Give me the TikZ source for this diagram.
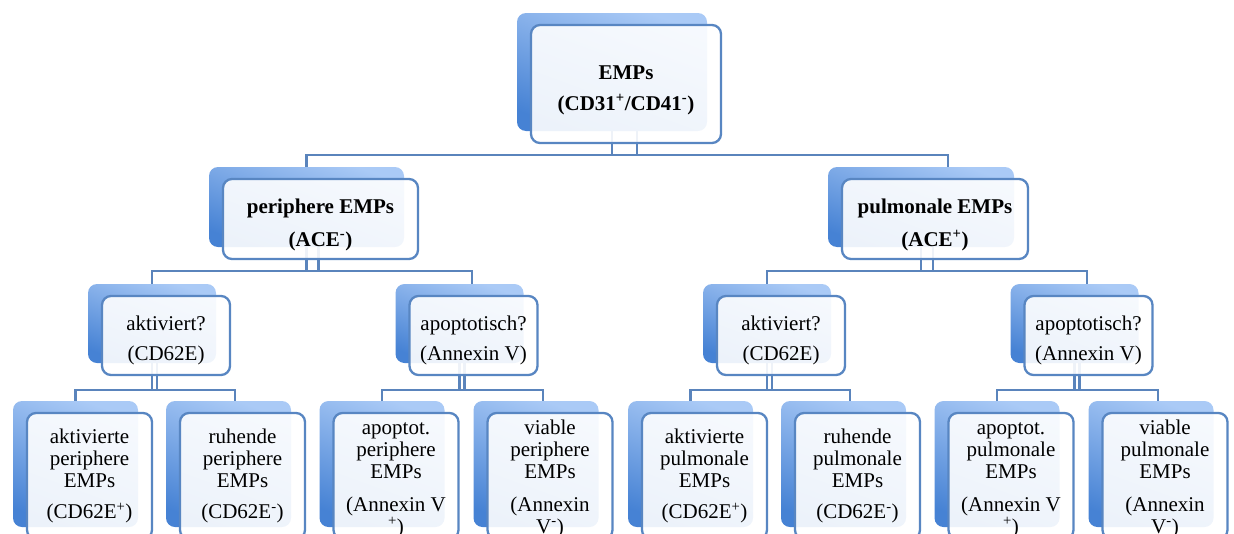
\documentclass[tikz,border=0pt]{standalone}
\usepackage{fontspec}
\setmainfont{Liberation Serif}
\usetikzlibrary{calc}
\pgfdeclarelayer{bg}
\pgfsetlayers{bg,main}
\definecolor{bordc}{RGB}{88,134,194}
\definecolor{linec}{RGB}{90,132,188}
\definecolor{backtop}{RGB}{170,202,246}
\definecolor{backbot}{RGB}{70,130,212}
\newcommand\mkbox[6]{%
  \node[backbox, minimum width=#4pt, minimum height=#5pt] (#1b) at (#2-14,#3-12) {};
  \node[frontbox, minimum width=#4pt, minimum height=#5pt] (#1) at (#2,#3) {#6};
}
\newcommand\lowr[1]{\rule{0pt}{#1pt}}
\begin{document}
\begin{tikzpicture}[x=1pt,y=-1pt,
  frontbox/.style={draw=bordc, line width=2.3pt, rounded corners=9pt, fill=white,
    fill opacity=0.9, text opacity=1, inner sep=0pt, align=center,
    font=\fontsize{21}{22}\selectfont},
  backbox/.style={rounded corners=9pt, top color=backtop, bottom color=backbot,
    shading angle=-20, inner sep=0pt},
  conn/.style={draw=linec, line width=2.3pt},
]
\useasboundingbox (0,0) rectangle (1234,533);
\clip (0,0) rectangle (1234,533);

% level 0
\mkbox{T}{626}{84}{190}{118}{\lowr{26}\textbf{EMPs}\\[9pt]\textbf{(CD31\textsuperscript{+}/CD41\textsuperscript{-})}}
% level 1
\mkbox{P}{320.5}{219}{195}{80}{\lowr{26}\textbf{periphere EMPs}\\[11pt]\textbf{(ACE\textsuperscript{-})}}
\mkbox{Q}{935}{219}{186}{80}{\lowr{26}\textbf{pulmonale EMPs}\\[11pt]\textbf{(ACE\textsuperscript{+})}}
% level 2
\mkbox{A1}{166}{335.5}{128}{79}{\lowr{25}aktiviert?\\[8pt](CD62E)}
\mkbox{B1}{473.5}{335.5}{128}{79}{\lowr{25}apoptotisch?\\[8pt](Annexin V)}
\mkbox{A2}{781}{335.5}{128}{79}{\lowr{25}aktiviert?\\[8pt](CD62E)}
\mkbox{B2}{1088.5}{335.5}{128}{79}{\lowr{25}apoptotisch?\\[8pt](Annexin V)}
% level 3
\mkbox{C1}{89.5}{476}{125}{126}{aktivierte\\periphere\\EMPs\\[9pt](CD62E\textsuperscript{+})}
\mkbox{C2}{242.5}{476}{125}{126}{ruhende\\periphere\\EMPs\\[9pt](CD62E\textsuperscript{-})}
\mkbox{C3}{396}{476}{125}{126}{\lowr{20}apoptot.\\periphere\\EMPs\\[11pt](Annexin V\\\textsuperscript{+})}
\mkbox{C4}{550}{476}{125}{126}{\lowr{20}viable\\periphere\\EMPs\\[11pt](Annexin\\V\textsuperscript{-})}
\mkbox{C5}{704.5}{476}{125}{126}{aktivierte\\pulmonale\\EMPs\\[9pt](CD62E\textsuperscript{+})}
\mkbox{C6}{857.5}{476}{125}{126}{ruhende\\pulmonale\\EMPs\\[9pt](CD62E\textsuperscript{-})}
\mkbox{C7}{1011}{476}{125}{126}{\lowr{20}apoptot.\\pulmonale\\EMPs\\[11pt](Annexin V\\\textsuperscript{+})}
\mkbox{C8}{1165}{476}{125}{126}{\lowr{20}viable\\pulmonale\\EMPs\\[11pt](Annexin\\V\textsuperscript{-})}

\begin{pgfonlayer}{bg}
\draw[conn] ([xshift=25pt]Tb.south) -- ++(0,24) -| (Pb.north);
\draw[conn] (Tb.south) -- ++(0,24) -| ([xshift=27pt]Qb.north);
\draw[conn] ([xshift=12pt]Pb.south) -- ++(0,24) -| (A1b.north);
\draw[conn] (Pb.south) -- ++(0,24) -| ([xshift=12.5pt]B1b.north);
\draw[conn] ([xshift=12pt]Qb.south) -- ++(0,24) -| (A2b.north);
\draw[conn] (Qb.south) -- ++(0,24) -| ([xshift=12.5pt]B2b.north);
\draw[conn] ([xshift=5pt]A1b.south) -- ++(0,27) -| (C1b.north);
\draw[conn] (A1b.south) -- ++(0,27) -| ([xshift=6.5pt]C2b.north);
\draw[conn] ([xshift=5pt]B1b.south) -- ++(0,27) -| (C3b.north);
\draw[conn] (B1b.south) -- ++(0,27) -| ([xshift=7pt]C4b.north);
\draw[conn] ([xshift=5pt]A2b.south) -- ++(0,27) -| (C5b.north);
\draw[conn] (A2b.south) -- ++(0,27) -| ([xshift=6.5pt]C6b.north);
\draw[conn] ([xshift=5pt]B2b.south) -- ++(0,27) -| (C7b.north);
\draw[conn] (B2b.south) -- ++(0,27) -| ([xshift=7pt]C8b.north);
\end{pgfonlayer}
\end{tikzpicture}
\end{document}
